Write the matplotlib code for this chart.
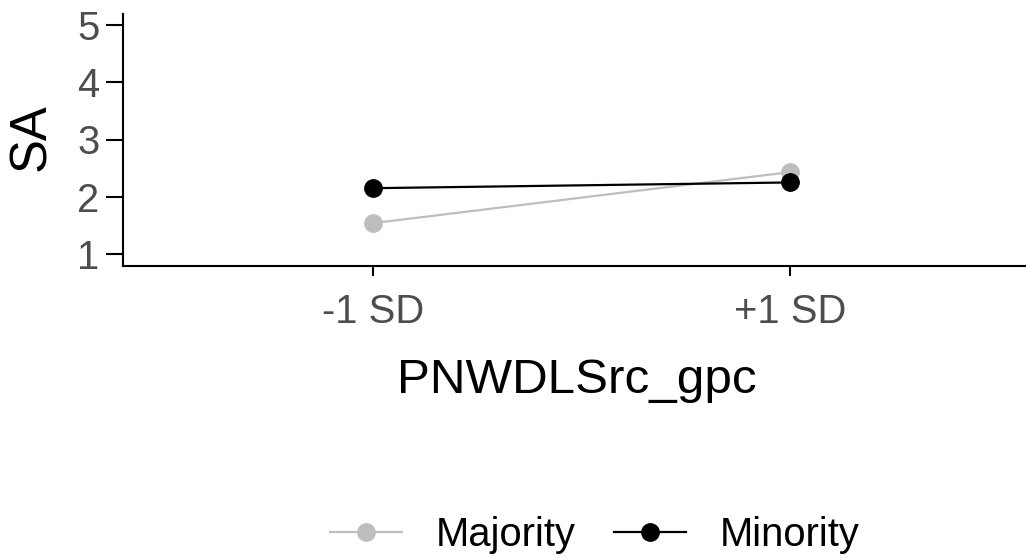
import matplotlib
matplotlib.use("Agg")
import matplotlib.pyplot as plt

categories = ["-1 SD", "+1 SD"]
majority = [1.54, 2.43]
minority = [2.15, 2.25]
y_ticks = [1, 2, 3, 4, 5]
series_names = ["Majority", "Minority"]
colors = ["#BEBEBE", "#000000"]

plt.rcParams['font.family'] = ['Liberation Sans', 'DejaVu Sans']

W, H = 1026, 558
fig = plt.figure(figsize=(W / 100, H / 100), dpi=100)
ax = fig.add_axes([123 / W, 1 - 265.5 / H, (1040 - 123) / W, (265.5 - 13.5) / H])

x = list(range(1, len(categories) + 1))
for vals, name, c in zip([majority, minority], series_names, colors):
    ax.plot(x, vals, color=c, lw=1.6, marker='o', ms=12.5, label=name)

ax.set_xlim(0.4, 2.6)
ax.set_ylim(0.8, 5.2)
ax.set_xticks(x)
ax.set_xticklabels(categories)
ax.set_yticks(y_ticks)
for s in ['top', 'right']:
    ax.spines[s].set_visible(False)
for s in ['left', 'bottom']:
    ax.spines[s].set_linewidth(1.5)
ax.tick_params(axis='both', width=1.5, color='black',
               labelsize=28.8, labelcolor='#4D4D4D')
ax.tick_params(axis='y', length=12, pad=5)
ax.tick_params(axis='x', length=7, pad=12.5)

fig.text(32 / W, 1 - 137 / H, "SA", rotation=90, ha='center', va='center', fontsize=36.5)
fig.text(577 / W, 1 - 393 / H, "PNWDLSrc_gpc", ha='center', va='baseline', fontsize=35.6)

fig.legend(loc='center', bbox_to_anchor=(595 / W, 1 - 535 / H), ncol=2, frameon=False,
           fontsize=28.8, handlelength=1.8, handletextpad=0.85, columnspacing=0.95)

fig.savefig("out.png", dpi=100)
